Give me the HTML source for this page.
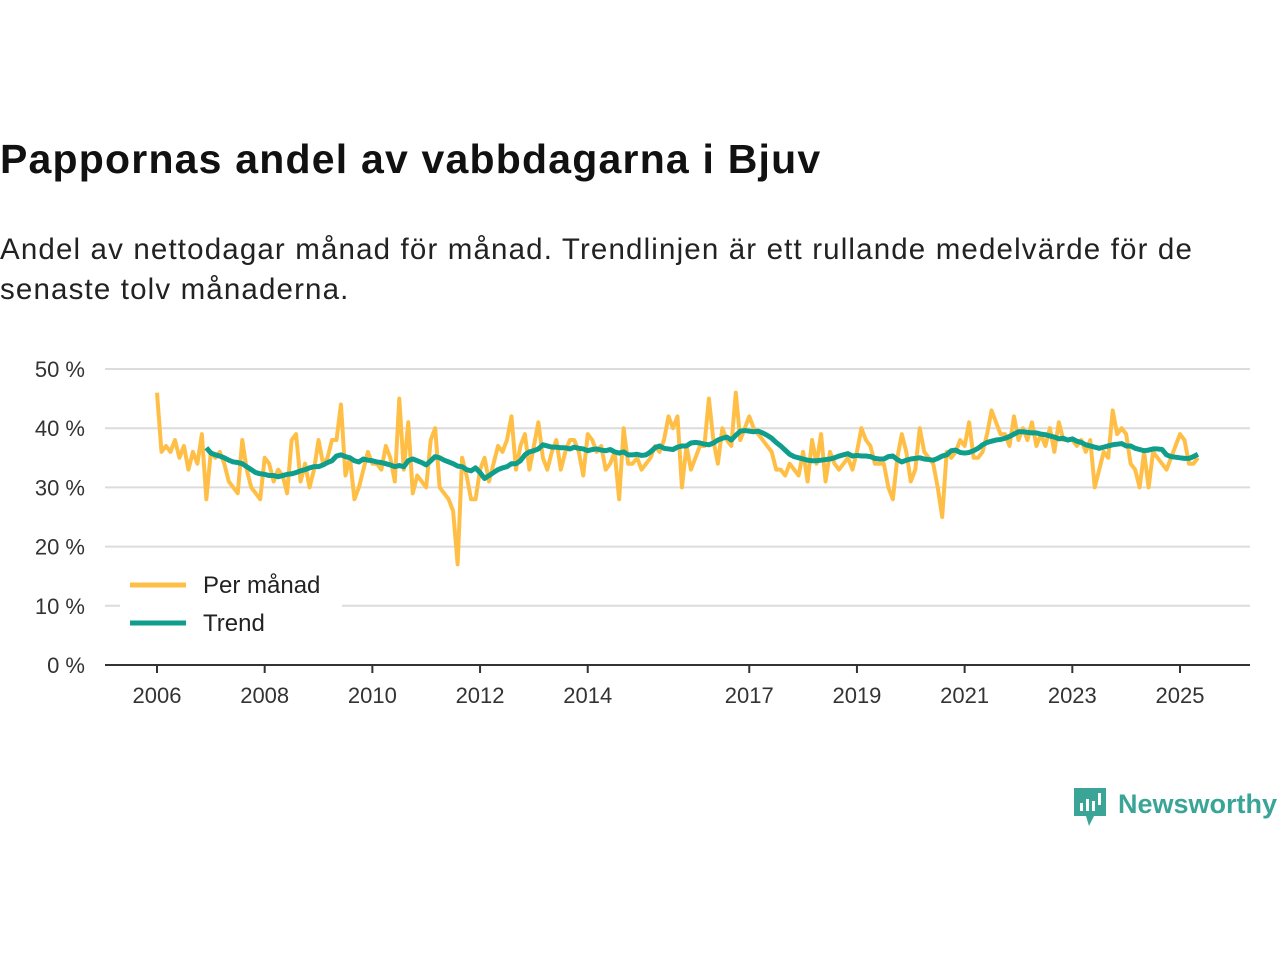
<!DOCTYPE html>
<html><head><meta charset="utf-8"><style>
body{margin:0;background:#fff;width:1280px;height:960px;overflow:hidden;font-family:"Liberation Sans",sans-serif;color:#111}
#title{position:absolute;left:0;top:136px;font-size:41px;font-weight:bold;white-space:nowrap;letter-spacing:1.2px}
#sub{position:absolute;left:0;top:230px;font-size:29.5px;line-height:40px;width:1235px;color:#222;letter-spacing:1.15px}
svg{position:absolute;left:0;top:0}
</style></head><body>
<div id="title">Pappornas andel av vabbdagarna i Bjuv</div>
<div id="sub">Andel av nettodagar månad för månad. Trendlinjen är ett rullande medelvärde för de senaste tolv månaderna.</div>
<svg id="c" width="1280" height="960"></svg>
<script>
const yTicks=[0,10,20,30,40,50];
const xTickYears=[2006,2008,2010,2012,2014,2017,2019,2021,2023,2025];
const monthly=[
46,36,37,36,38,35,37,33,36,34,39,28,
36,35,36,34,31,30,29,38,33,30,29,28,
35,34,31,33,32,29,38,39,31,34,30,33,
38,34,35,38,38,44,32,35,28,30,33,36,
34,34,33,37,35,31,45,33,41,29,32,31,
30,38,40,30,29,28,26,17,35,32,28,28,
33,35,31,34,37,36,38,42,33,37,39,33,
37,41,35,33,36,38,33,36,38,38,36,32,
39,38,36,37,33,34,36,28,40,34,34,35,
33,34,35,37,36,38,42,40,42,30,37,33,
35,37,37,45,38,34,40,38,37,46,38,40,
42,40,39,38,37,36,33,33,32,34,33,32,
36,31,38,34,39,31,36,34,33,34,35,33,
36,40,38,37,34,34,34,30,28,35,39,36,
31,33,40,36,35,34,30,25,36,35,36,38,
37,41,35,35,36,39,43,41,39,39,37,42,
38,40,38,41,37,39,37,40,36,41,38,38,
38,37,38,36,38,30,33,36,35,43,39,40,
39,34,33,30,36,30,36,35,34,33,35,37,
39,38,34,34,35];
const trendStart=11;
const trend=[36.7,
35.8,35.5,35.3,35,34.6,34.3,34.2,34,33.5,33,32.5,32.3,
32.2,32,32,31.8,32,32.2,32.3,32.5,32.8,33,33.3,33.5,
33.5,33.8,34.2,34.5,35.3,35.5,35.2,35,34.5,34.3,34.8,34.6,
34.5,34.3,34.2,34,33.8,33.5,33.7,33.5,34.5,34.8,34.5,34.2,
33.8,34.5,35.2,35,34.6,34.3,34,33.6,33.5,33,32.8,33.3,
32.5,31.5,32,32.5,33,33.3,33.5,34,34,34.5,35.5,36,
36.2,36.5,37.2,37,36.8,36.8,36.7,36.7,36.5,36.8,36.6,36.5,
36.2,36.4,36.5,36.3,36.2,36.4,36,35.8,36,35.5,35.5,35.6,
35.4,35.5,36,36.7,37,36.6,36.5,36.4,36.8,37,37,37.5,
37.6,37.5,37.3,37.2,37.5,38,38.3,38.5,38,38.8,39.5,39.6,
39.5,39.4,39.5,39.2,38.8,38.3,37.6,37,36.3,35.6,35.2,35,
34.8,34.6,34.5,34.5,34.6,34.7,34.8,35,35.3,35.5,35.7,35.3,
35.4,35.3,35.3,35.2,34.9,34.8,34.8,35.2,35.3,34.7,34.3,34.6,
34.8,34.9,35,34.8,34.7,34.6,34.9,35.3,35.5,36.2,36.3,35.9,
35.8,35.9,36.2,36.6,37.2,37.6,37.8,38,38.1,38.3,38.6,39,
39.4,39.4,39.3,39.2,39.2,39,38.9,38.7,38.5,38.2,38.3,38,
38.2,37.8,37.6,37.2,37,36.8,36.6,36.8,37,37.2,37.3,37.4,
37,37,36.6,36.4,36.2,36.3,36.5,36.5,36.4,35.5,35.2,35.1,
35,34.9,34.9,35.2,35.6];
const svg=document.getElementById('c');const NS='http://www.w3.org/2000/svg';
const X=i=>157+i*(1180-157)/228; const Y=v=>665-v*(665-369)/50;
function mk(t,a,txt){const e=document.createElementNS(NS,t);for(const k in a)e.setAttribute(k,a[k]);if(txt!=null)e.textContent=txt;svg.appendChild(e);return e;}
yTicks.forEach(v=>{
 if(v>0){const g=mk('line',{x1:105,x2:1250,y1:Y(v),y2:Y(v),stroke:'#dcdcdc','stroke-width':2});
 
 }
 const t=mk('text',{x:85,y:Y(v)+8,'text-anchor':'end','font-size':22,fill:'#333','font-family':'Liberation Sans, sans-serif'},v+' %');
 
 
});
const ax=mk('line',{x1:105,x2:1250,y1:665,y2:665,stroke:'#333','stroke-width':2});


xTickYears.forEach(yr=>{
 const x=X((yr-2006)*12);
 const tk=mk('line',{x1:x,x2:x,y1:665,y2:673,stroke:'#333','stroke-width':2});
 
 
 const t=mk('text',{x:x,y:703,'text-anchor':'middle','font-size':22,fill:'#333','font-family':'Liberation Sans, sans-serif'},yr);
 
 
});
const p1=mk('polyline',{points:monthly.map((v,i)=>X(i)+','+Y(v)).join(' '),fill:'none',stroke:'#ffbf47','stroke-width':4,'stroke-linejoin':'round'});


const p2=mk('polyline',{points:trend.map((v,i)=>X(i+trendStart)+','+Y(v)).join(' '),fill:'none',stroke:'#109e8c','stroke-width':5,'stroke-linejoin':'round'});


const lb=mk('rect',{x:120,y:565,width:222,height:78,fill:'#fff'});


[['Per månad','#ffbf47',585],['Trend','#109e8c',623]].forEach(([n,c,y])=>{
 const l=mk('line',{x1:130,x2:186,y1:y,y2:y,stroke:c,'stroke-width':5});
 
 
 const t=mk('text',{x:203,y:y+8,'font-size':24,fill:'#222','font-family':'Liberation Sans, sans-serif'},n);
 
 
});
const lg=mk('g',{});


lg.innerHTML='<path d="M1074 788h32v28h-12l-5 10-3-10h-12z" fill="#3aa597"/><rect x="1080" y="803" width="3" height="8" fill="#fff"/><rect x="1086" y="799" width="3" height="12" fill="#fff"/><rect x="1092" y="801" width="3" height="10" fill="#fff"/><rect x="1098" y="793" width="3" height="12" fill="#fff"/><text x="1118" y="813" font-size="27" font-weight="bold" fill="#3aa597" font-family="Liberation Sans, sans-serif">Newsworthy</text>';
svg.appendChild(lg);
</script>
</body></html>
